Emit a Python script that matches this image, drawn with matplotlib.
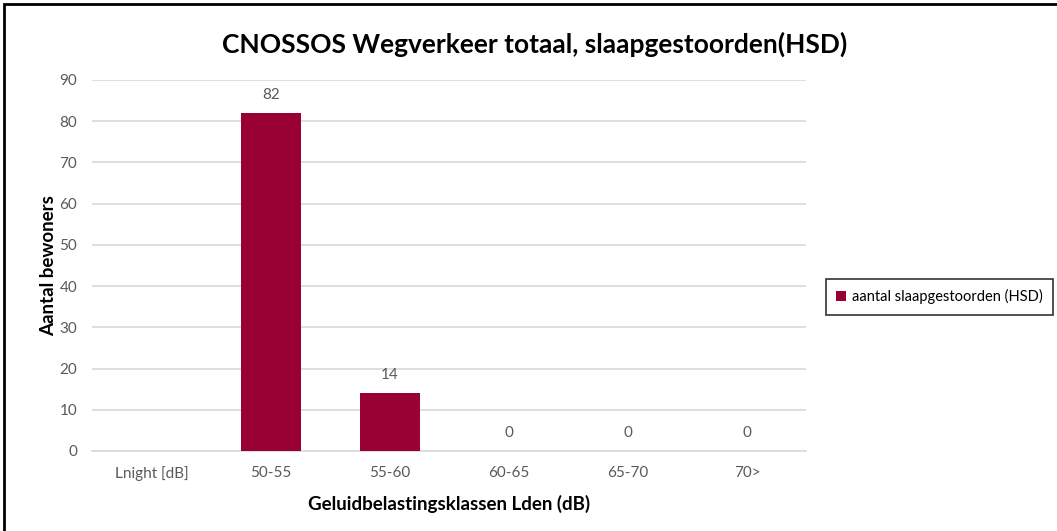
import matplotlib.pyplot as plt
from matplotlib.patches import Rectangle
import numpy as np

plt.rcParams['font.family'] = ['Lato', 'DejaVu Sans']

# ==== Data ====
categories = ["Lnight [dB]", "50-55", "55-60", "60-65", "65-70", "70>"]
values = [np.nan, 82, 14, 0, 0, 0]
series_name = "aantal slaapgestoorden (HSD)"

BAR_COLOR = "#990033"
TEXT_GREY = "#595959"

fig = plt.figure(figsize=(10.57, 5.31), dpi=100)
ax = fig.add_axes([0.0875, 0.1507, 0.6755, 0.6987])

x = np.arange(len(categories))
ax.bar(x, np.nan_to_num(values), width=0.5, color=BAR_COLOR, label=series_name, zorder=3)

for xi, v in zip(x, values):
    if np.isnan(v):
        continue
    ax.annotate(f"{int(v)}", (xi, v), xytext=(0, 8), textcoords="offset points",
                ha="center", va="bottom", fontsize=11, color=TEXT_GREY)

ax.set_xlim(-0.5, len(categories) - 0.5)
ax.set_ylim(0, 90)
ax.set_yticks(range(0, 91, 10))
ax.set_xticks(x)
ax.set_xticklabels(categories)
ax.yaxis.grid(True, color="#d9d9d9", linewidth=1.2, zorder=0)
ax.tick_params(axis="both", length=0, labelsize=11, labelcolor=TEXT_GREY)
ax.tick_params(axis="x", pad=11)
ax.tick_params(axis="y", pad=11)
for side in ["top", "right", "left"]:
    ax.spines[side].set_visible(False)
ax.spines["bottom"].set_color("#d9d9d9")
ax.spines["bottom"].set_linewidth(1.2)

ax.set_xlabel("Geluidbelastingsklassen Lden (dB)", fontsize=13.5, fontweight="bold", labelpad=10)
ax.set_ylabel("Aantal bewoners", fontsize=13.5, fontweight="bold", labelpad=2)

fig.text(0.506, 0.917, "CNOSSOS Wegverkeer totaal, slaapgestoorden(HSD)",
         ha="center", va="center", fontsize=19, fontweight="bold")

leg = fig.legend(loc="center left", bbox_to_anchor=(0.7745, 0.441), fontsize=10.5,
                 frameon=True, fancybox=False, handlelength=0.7, handleheight=0.7,
                 handletextpad=0.4, borderpad=0.7)
leg.get_frame().set_edgecolor("black")
leg.get_frame().set_linewidth(1.2)

# outer frame
fig.patches.append(Rectangle((0.004, -0.01), 1.1, 1.002, transform=fig.transFigure,
                             fill=False, edgecolor="black", linewidth=2))

fig.savefig("out.png", dpi=100)
